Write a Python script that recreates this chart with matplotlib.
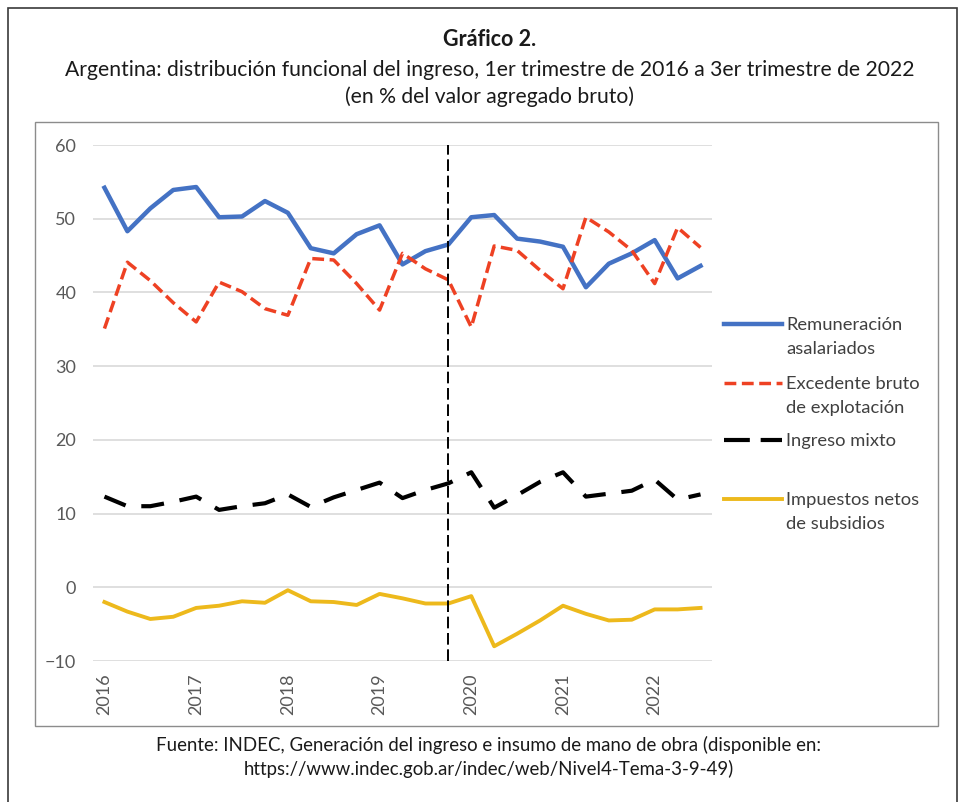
#!/usr/bin/env python
"""
Gráfico 2: distribución funcional del ingreso, Argentina 2016-2022.
"""

import matplotlib
matplotlib.use('Agg')
import matplotlib.pyplot as plt
from matplotlib.lines import Line2D
from matplotlib.patches import Rectangle

plt.rcParams['font.family'] = ['Lato', 'DejaVu Sans']

# quarterly data, 1er trim 2016 .. 3er trim 2022 (% del VAB)
quarters = ['2016T1', '2016T2', '2016T3', '2016T4',
            '2017T1', '2017T2', '2017T3', '2017T4',
            '2018T1', '2018T2', '2018T3', '2018T4',
            '2019T1', '2019T2', '2019T3', '2019T4',
            '2020T1', '2020T2', '2020T3', '2020T4',
            '2021T1', '2021T2', '2021T3', '2021T4',
            '2022T1', '2022T2', '2022T3']
years = ['2016', '2017', '2018', '2019', '2020', '2021', '2022']

remuneracion = [54.2, 48.3, 51.4, 53.9, 54.3, 50.2, 50.3, 52.4, 50.8, 46.0,
                45.3, 47.9, 49.1, 43.8, 45.6, 46.5, 50.2, 50.5, 47.3, 46.9,
                46.2, 40.7, 43.9, 45.3, 47.1, 41.9, 43.6]
excedente = [35.1, 44.1, 41.6, 38.6, 36.0, 41.4, 40.1, 37.8, 36.9, 44.6,
             44.4, 41.2, 37.6, 45.3, 43.2, 41.7, 35.3, 46.3, 45.7, 43.0,
             40.5, 50.2, 48.2, 45.7, 41.2, 48.8, 46.1]
mixto = [12.3, 11.0, 11.0, 11.6, 12.3, 10.5, 11.0, 11.4, 12.6, 10.9,
         12.2, 13.2, 14.2, 12.1, 13.2, 14.1, 15.6, 10.8, 12.5, 14.3,
         15.6, 12.3, 12.7, 13.1, 14.6, 11.9, 12.6]
impuestos = [-2.0, -3.3, -4.3, -4.0, -2.8, -2.5, -1.9, -2.1, -0.4, -1.9,
             -2.0, -2.4, -0.9, -1.5, -2.2, -2.2, -1.2, -8.0, -6.3, -4.5,
             -2.5, -3.6, -4.5, -4.4, -3.0, -3.0, -2.8]
cambio_gobierno = '2019T4'

W, H = 962, 802
fig = plt.figure(figsize=(W / 100, H / 100), dpi=100)


def px(x, y):
    """pixel (from top-left) -> figure fraction"""
    return x / W, 1 - y / H


# frames (outer one runs past the bottom edge, as in the source)
fig.add_artist(Rectangle(px(8, 815), 949 / W, 807 / H, transform=fig.transFigure,
                         fill=False, edgecolor='#3a3a3a', linewidth=1.2))
fig.add_artist(Rectangle(px(35, 726), 903 / W, 604 / H, transform=fig.transFigure,
                         fill=False, edgecolor='#8c8c8c', linewidth=1.0))

# titles
fig.text(*px(490, 40), 'Gráfico 2.', ha='center', va='center',
         fontsize=15.5, fontweight='bold', color='#1a1a1a')
fig.text(*px(490, 70), 'Argentina: distribución funcional del ingreso, 1er trimestre '
         'de 2016 a 3er trimestre de 2022', ha='center', va='center',
         fontsize=15.2, color='#1a1a1a')
fig.text(*px(490, 97), '(en % del valor agregado bruto)', ha='center', va='center',
         fontsize=15.2, color='#1a1a1a')

# footer
fig.text(*px(489, 745), 'Fuente: INDEC, Generación del ingreso e insumo de mano de '
         'obra (disponible en:', ha='center', va='center', fontsize=13.4,
         color='#1a1a1a')
fig.text(*px(489, 769), 'https://www.indec.gob.ar/indec/web/Nivel4-Tema-3-9-49)',
         ha='center', va='center', fontsize=13.4, color='#1a1a1a')

# main axes
l, b = px(93, 661)
ax = fig.add_axes([l, b, (712 - 93) / W, (661 - 145) / H])
x = list(range(len(quarters)))

ax.plot(x, remuneracion, color='#4472C4', linewidth=3.2)
ax.plot(x, excedente, color='#EE4123', linewidth=2.5, dashes=(3.4, 1.6))
ax.plot(x, mixto, color='black', linewidth=3.0, dashes=(5.5, 3.8))
ax.plot(x, impuestos, color='#EDB91C', linewidth=2.8)
ax.axvline(quarters.index(cambio_gobierno), color='black', linewidth=1.4,
           dashes=(6, 2.4))

ax.set_xlim(-0.5, len(quarters) - 0.5)
ax.set_ylim(-10, 60)
ax.set_yticks(range(-10, 61, 10))
ax.set_xticks([quarters.index(y + 'T1') for y in years])
ax.set_xticklabels(years, rotation=90)
ax.tick_params(length=0, labelsize=13, colors='#595959')
ax.tick_params(axis='y', pad=12)
ax.tick_params(axis='x', pad=9)
ax.grid(axis='y', color='#d9d9d9', linewidth=1.2)
ax.set_axisbelow(True)
for s in ax.spines.values():
    s.set_visible(False)

# legend drawn by hand so the sample line sits on the first text row
legend = [
    (324, 'Remuneración\nasalariados', dict(color='#4472C4', linewidth=3.2)),
    (383, 'Excedente bruto\nde explotación', dict(color='#EE4123', linewidth=2.5,
                                                   dashes=(3.4, 1.6))),
    (440, 'Ingreso mixto', dict(color='black', linewidth=3.0, dashes=(6.2, 2.6))),
    (499, 'Impuestos netos\nde subsidios', dict(color='#EDB91C', linewidth=2.8)),
]
for yy, label, style in legend:
    x0, y0 = px(724, yy)
    x1, _ = px(782, yy)
    fig.add_artist(Line2D([x0, x1], [y0, y0], transform=fig.transFigure, **style))
    fig.text(*px(786, yy - 7), label, ha='left', va='top', fontsize=13.2,
             color='#404040', linespacing=1.6)

fig.savefig('out.png', dpi=100)
